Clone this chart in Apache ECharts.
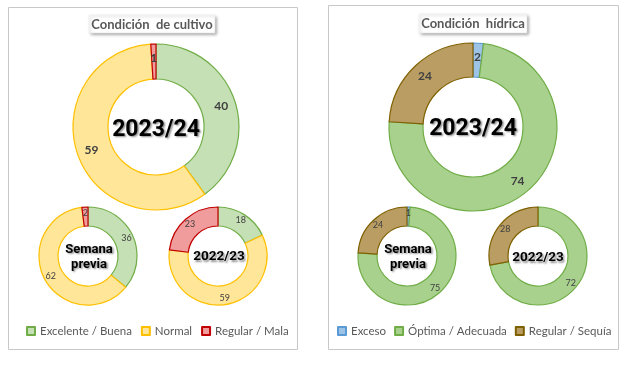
<!DOCTYPE html>
<html><head><meta charset="utf-8">
<script src="https://cdn.jsdelivr.net/npm/echarts@6/dist/echarts.min.js"></script>
<style>html,body{margin:0;padding:0;background:#fff}#c{width:640px;height:365px}</style>
</head><body><div id="c"></div>
<script>
const cultivoNames = ['Excelente / Buena', 'Normal', 'Regular / Mala'];
const cultivoActual = [40, 59, 1];
const cultivoSemana = [36, 62, 2];
const cultivoAnterior = [18, 59, 23];

const hidricaNames = ['Exceso', 'Óptima / Adecuada', 'Regular / Sequía'];
const hidricaActual = [2, 74, 24];
const hidricaSemana = [1, 75, 24];
const hidricaAnterior = [0, 72, 28];

const cultivoFill = ['#C5E0B4', '#FFE699', '#F09C9C'];
const cultivoBorder = ['#70AD47', '#FFC000', '#C00000'];
const hidricaFill = ['#9DC3E6', '#A9D18E', '#BA9D63'];
const hidricaBorder = ['#5B9BD5', '#70AD47', '#7F6000'];

const FONT = 'Lato, "Noto Sans", sans-serif';
const CFONT = 'Roboto, "DejaVu Sans", sans-serif';

function mk(names, vals, fills, borders) {
  return names.map((n, i) => ({
    name: n, value: vals[i],
    itemStyle: { color: fills[i], borderColor: borders[i], borderWidth: 1.2 }
  }));
}
function pie(names, vals, fills, borders, center, radius, big) {
  return {
    type: 'pie', center: center, radius: radius, startAngle: 90, clockwise: true,
    avoidLabelOverlap: false, silent: true, animation: false,
    label: {
      show: true, position: 'inside',
      formatter: p => p.value === 0 ? '' : String(p.value),
      color: '#404040', fontFamily: FONT,
      fontSize: big ? 12 : 9, fontWeight: big ? 'bold' : 'normal'
    },
    labelLine: { show: false },
    data: mk(names, vals, fills, borders)
  };
}
const shadowTxt = { textShadowColor: 'rgba(0,0,0,0.45)', textShadowBlur: 2, textShadowOffsetX: 1.5, textShadowOffsetY: 1.5 };
function centerText(x, y, text, size, lh) {
  return { type: 'text', x: x, y: y, style: Object.assign({ text: text, fill: '#000', font: 'bold ' + size + 'px ' + CFONT, align: 'center', verticalAlign: 'middle', lineHeight: lh || size }, shadowTxt), z: 100 };
}
function titleBox(x, y, w, h, text) {
  return [
    { type: 'rect', shape: { x: x, y: y, width: w, height: h }, style: { fill: '#fff', stroke: '#E6E6E6', lineWidth: 0.5, shadowColor: 'rgba(0,0,0,0.35)', shadowBlur: 3, shadowOffsetX: 1.5, shadowOffsetY: 1.5 }, z: 50 },
    { type: 'text', x: x + w / 2, y: y + h / 2 + 0.5, style: { text: text, fill: '#595959', font: 'bold 13px ' + FONT, align: 'center', verticalAlign: 'middle' }, z: 51 }
  ];
}
const legendText = { color: '#595959', fontFamily: FONT, fontSize: 11.5 };

const chart = echarts.init(document.getElementById('c'), null, { renderer: 'canvas' });
chart.setOption({
  animation: false,
  backgroundColor: '#fff',
  legend: [
    { data: cultivoNames, left: 26, top: 325, width: 290, orient: 'horizontal', icon: 'rect', itemWidth: 8, itemHeight: 8, itemGap: 9, selectedMode: false,
      textStyle: legendText, padding: 0 },
    { data: hidricaNames, left: 337, top: 325, width: 290, orient: 'horizontal', icon: 'rect', itemWidth: 8, itemHeight: 8, itemGap: 8, selectedMode: false,
      textStyle: legendText, padding: 0 }
  ],
  graphic: [
    { type: 'rect', shape: { x: 8.5, y: 7.5, width: 289, height: 342 }, style: { fill: 'none', stroke: '#C8C8C8', lineWidth: 1 }, z: 0 },
    { type: 'rect', shape: { x: 328.5, y: 5.5, width: 290, height: 344 }, style: { fill: 'none', stroke: '#C8C8C8', lineWidth: 1 }, z: 0 },
    ...titleBox(89, 15, 126, 18, 'Condición  de cultivo'),
    ...titleBox(419, 14, 108, 19, 'Condición  hídrica'),
    centerText(156, 130, '2023/24', 23),
    centerText(473, 129, '2023/24', 23),
    centerText(89, 257, 'Semana\nprevia', 13, 15),
    centerText(219, 257, '2022/23', 13.5),
    centerText(408, 257, 'Semana\nprevia', 13, 15),
    centerText(538, 258, '2022/23', 13.5)
  ],
  series: [
    pie(cultivoNames, cultivoActual, cultivoFill, cultivoBorder, [156, 127], [48, 83], true),
    pie(cultivoNames, cultivoSemana, cultivoFill, cultivoBorder, [88, 256], [30, 49], false),
    pie(cultivoNames, cultivoAnterior, cultivoFill, cultivoBorder, [218, 256], [30, 49], false),
    pie(hidricaNames, hidricaActual, hidricaFill, hidricaBorder, [473, 127], [50, 84], true),
    pie(hidricaNames, hidricaSemana, hidricaFill, hidricaBorder, [407, 256], [30, 49], false),
    pie(hidricaNames, hidricaAnterior, hidricaFill, hidricaBorder, [538, 256], [30, 49], false)
  ]
});
</script></body></html>
